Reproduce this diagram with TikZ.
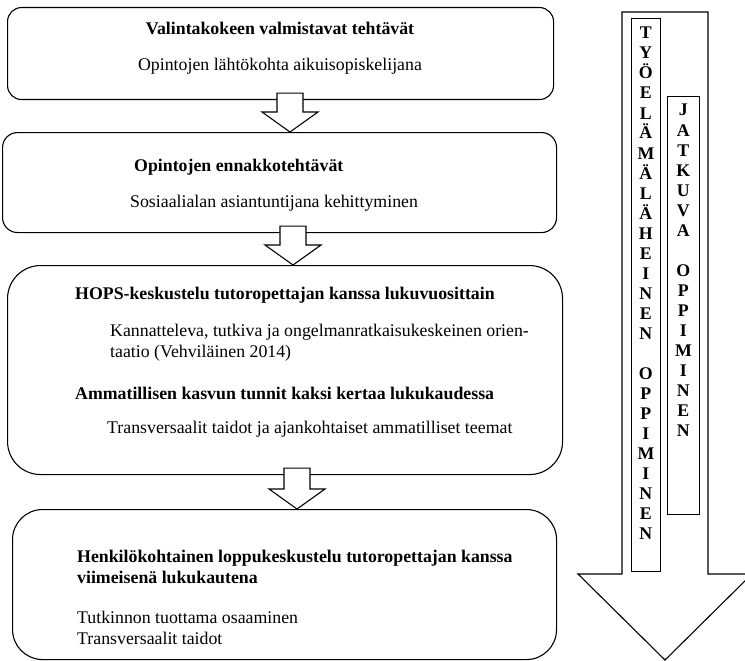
\documentclass[tikz,border=0pt]{standalone}
\usepackage{fontspec}
\setmainfont{Liberation Serif}
\usetikzlibrary{calc}

\newcommand{\koko}{\fontsize{17.8}{21}\selectfont}
% block arrow from one box down to the next, #3 = x of its axis
\newcommand{\nuoli}[3]{%
  \draw[nuoli] ($(#3,0 |- #1.south)+(-13,7)$) -- ($(#3,0 |- #2.north)+(-13,20)$)
    -- ++(-15,0) -- (#3,0 |- #2.north) -- ++(28,20) -- ++(-15,0)
    -- ($(#3,0 |- #1.south)+(13,7)$) -- cycle;}

\begin{document}
\begin{tikzpicture}
[x=1pt,y=1pt,
every node/.style={inner sep=0pt},
laatikko/.style={draw,line width=1.1pt,anchor=north west},
otsikko/.style={font=\koko\bfseries,anchor=base west,align=left},
teksti/.style={font=\koko,anchor=base west,align=left},
kirjain/.style={font=\koko\bfseries,anchor=base},
nuoli/.style={draw,fill=white,line width=1.1pt,line join=miter},
]
\useasboundingbox (0,0) rectangle (745,-661);

% left column
\node[laatikko,rounded corners=14pt,minimum width=546pt,minimum height=92pt] (valinta) at (7,-7) {};
\node[otsikko,anchor=base] (valinta1) at (280,-35) {Valintakokeen valmistavat tehtävät};
\node[teksti,anchor=base] (valinta2) at (280,-71) {Opintojen lähtökohta aikuisopiskelijana};

\node[laatikko,rounded corners=15pt,minimum width=554pt,minimum height=100pt] (ennakko) at (2,-132) {};
\node[otsikko] (ennakko1) at (134,-171) {Opintojen ennakkotehtävät};
\node[teksti] (ennakko2) at (130,-207) {Sosiaalialan asiantuntijana kehittyminen};

\node[laatikko,rounded corners=33pt,minimum width=555pt,minimum height=209pt] (hops) at (7,-265) {};
\node[otsikko] (hops1) at (75,-299) {HOPS-keskustelu tutoropettajan kanssa lukuvuosittain};
\node[teksti] (hops2) at (110,-357) {Kannatteleva, tutkiva ja ongelmanratkaisukeskeinen orien-\\taatio (Vehviläinen 2014)};
\node[otsikko] (hops3) at (75,-399) {Ammatillisen kasvun tunnit kaksi kertaa lukukaudessa};
\node[teksti] (hops4) at (107,-433) {Transversaalit taidot ja ajankohtaiset ammatilliset teemat};

\node[laatikko,rounded corners=30pt,minimum width=544pt,minimum height=150pt] (loppu) at (12,-509) {};
\node[otsikko] (loppu1) at (77,-583) {Henkilökohtainen loppukeskustelu tutoropettajan kanssa\\viimeisenä lukukautena};
\node[teksti] (loppu2) at (77,-644) {Tutkinnon tuottama osaaminen\\Transversaalit taidot};

\nuoli{valinta}{ennakko}{290}
\nuoli{ennakko}{hops}{293}
\nuoli{hops}{loppu}{297}

% right column
\draw[nuoli] (622,-12) -- (708,-12) -- (708,-574) -- (752,-574) -- (665,-660)
  -- (578,-574) -- (622,-574) -- cycle;
\node[laatikko,line width=0.8pt,minimum width=29pt,minimum height=553pt] (tyoelama) at (631,-18) {};
\node[laatikko,line width=0.8pt,minimum width=32pt,minimum height=418pt] (jatkuva) at (667,-96) {};
\foreach \k [count=\i] in {T,Y,Ö,E,L,Ä,M,Ä,L,Ä,H,E,I,N,E,N,{},O,P,P,I,M,I,N,E,N}
  \node[kirjain] (tyo\i) at ($(tyoelama.north)+(0,-1-20*\i)$) {\k};
\foreach \k [count=\i] in {J,A,T,K,U,V,A,{},O,P,P,I,M,I,N,E,N}
  \node[kirjain] (jat\i) at ($(jatkuva.north)+(0,-20*\i)$) {\k};
\end{tikzpicture}
\end{document}
